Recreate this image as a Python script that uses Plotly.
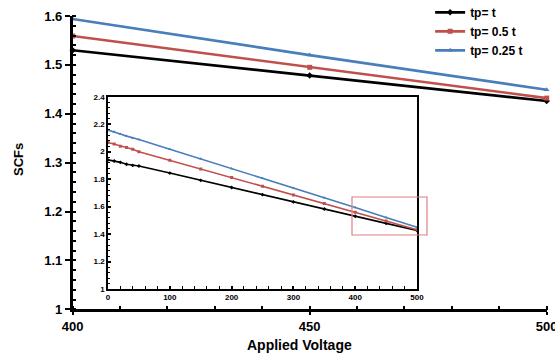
import plotly.graph_objects as go

voltage = [0, 10, 20, 30, 40, 50, 100, 150, 200, 250, 300, 350, 400, 450, 500]
scf_tp_t = [1.940, 1.932, 1.922, 1.908, 1.900, 1.896, 1.844, 1.791, 1.739, 1.687, 1.634, 1.582, 1.530, 1.478, 1.426]
scf_tp_05t = [2.067, 2.055, 2.040, 2.031, 2.018, 2.000, 1.937, 1.874, 1.811, 1.748, 1.685, 1.622, 1.559, 1.495, 1.432]
scf_tp_025t = [2.157, 2.145, 2.128, 2.113, 2.100, 2.089, 2.018, 1.948, 1.877, 1.806, 1.736, 1.665, 1.594, 1.520, 1.449]

series_names = ["tp= t", "tp= 0.5 t", "tp= 0.25 t"]
series_vals = [scf_tp_t, scf_tp_05t, scf_tp_025t]
colors = ["#000000", "#c0504d", "#4a7ebb"]
symbols = ["diamond", "square", "triangle-up"]

main_x_ticks = [400, 450, 500]
main_y_ticks = [1, 1.1, 1.2, 1.3, 1.4, 1.5, 1.6]
inset_x_ticks = [0, 100, 200, 300, 400, 500]
inset_y_ticks = [1, 1.2, 1.4, 1.6, 1.8, 2, 2.2, 2.4]

FONT = "Liberation Sans"
fig = go.Figure()

# inset (full range) traces
for name, vals, c, s in zip(series_names, series_vals, colors, symbols):
    fig.add_trace(go.Scatter(x=voltage, y=vals, mode="lines+markers", name=name,
                             line=dict(color=c, width=1.6),
                             marker=dict(symbol=s, size=3, color=c),
                             xaxis="x2", yaxis="y2", showlegend=False))

# main (zoomed) traces
for name, vals, c, s in zip(series_names, series_vals, colors, symbols):
    xs = [v for v in voltage if v >= 400]
    ys = [y for v, y in zip(voltage, vals) if v >= 400]
    fig.add_trace(go.Scatter(x=xs, y=ys, mode="lines+markers", name=name,
                             line=dict(color=c, width=2.6),
                             marker=dict(symbol=s, size=5, color=c),
                             xaxis="x", yaxis="y", cliponaxis=False))

tickfont_main = dict(family=FONT, size=13, color="black", weight="bold")
tickfont_inset = dict(family=FONT, size=8, color="black", weight="bold")

fig.update_layout(
    width=555, height=360,
    margin=dict(l=0, r=0, t=0, b=0, autoexpand=False),
    paper_bgcolor="white", plot_bgcolor="white",
    showlegend=True,
    legend=dict(x=0.775, y=1.006, xanchor="left", yanchor="top",
                font=dict(family=FONT, size=12, color="black", weight="bold"),
                bgcolor="rgba(0,0,0,0)", tracegroupgap=0, itemwidth=30),
    xaxis=dict(domain=[0.131, 0.985], range=[400, 500], tickvals=main_x_ticks,
               showline=True, linecolor="black", linewidth=2.5,
               ticks="outside", ticklen=3, tickwidth=2, tickcolor="black",
               minor=dict(dtick=10, ticks="inside", ticklen=4, tickwidth=2, tickcolor="black"),
               showgrid=False, zeroline=False, tickfont=tickfont_main,
               ticklabeloverflow="allow",
               anchor="y", automargin=False),
    yaxis=dict(domain=[0.1408, 0.9556], range=[1, 1.6], tickvals=main_y_ticks,
               showline=True, linecolor="black", linewidth=2.5,
               ticks="outside", ticklen=5, tickwidth=2, tickcolor="black",
               minor=dict(dtick=0.02, ticks="inside", ticklen=4, tickwidth=1.5, tickcolor="black"),
               showgrid=False, zeroline=False, tickfont=tickfont_main,
               ticklabeloverflow="allow",
               anchor="x", automargin=False),
    xaxis2=dict(domain=[0.1946, 0.7514], range=[0, 500], tickvals=inset_x_ticks,
                showline=True, linecolor="black", linewidth=1.5, mirror=True,
                ticks="inside", ticklen=3, tickwidth=1.5, tickcolor="black",
                minor=dict(dtick=20, ticks="inside", ticklen=3, tickwidth=1, tickcolor="black"),
                showgrid=False, zeroline=False, tickfont=tickfont_inset,
                ticklabeloverflow="allow",
                anchor="y2", automargin=False),
    yaxis2=dict(domain=[0.1972, 0.7314], range=[1, 2.4], tickvals=inset_y_ticks,
                showline=True, linecolor="black", linewidth=1.5, mirror=True,
                ticks="inside", ticklen=3, tickwidth=1.5, tickcolor="black",
                minor=dict(dtick=0.04, ticks="inside", ticklen=2, tickwidth=1, tickcolor="black"),
                showgrid=False, zeroline=False, tickfont=tickfont_inset,
                ticklabeloverflow="allow",
                anchor="x2", automargin=False),
    annotations=[
        dict(text="SCFs", x=18 / 555, y=1 - 160 / 360, xref="paper", yref="paper",
             xanchor="center", yanchor="middle",
             textangle=-90, showarrow=False,
             font=dict(family=FONT, size=13, color="black", weight="bold")),
        dict(text="Applied Voltage", x=299 / 555, y=1 - 345 / 360, xref="paper", yref="paper",
             xanchor="center", yanchor="middle",
             showarrow=False,
             font=dict(family=FONT, size=14, color="black", weight="bold")),
    ],
    shapes=[
        dict(type="rect", xref="paper", yref="paper",
             x0=352 / 555, x1=427 / 555, y0=1 - 235 / 360, y1=1 - 197 / 360,
             line=dict(color="#e08080", width=1.2), fillcolor="rgba(0,0,0,0)", layer="above"),
    ],
)

fig.write_html("out.html")
